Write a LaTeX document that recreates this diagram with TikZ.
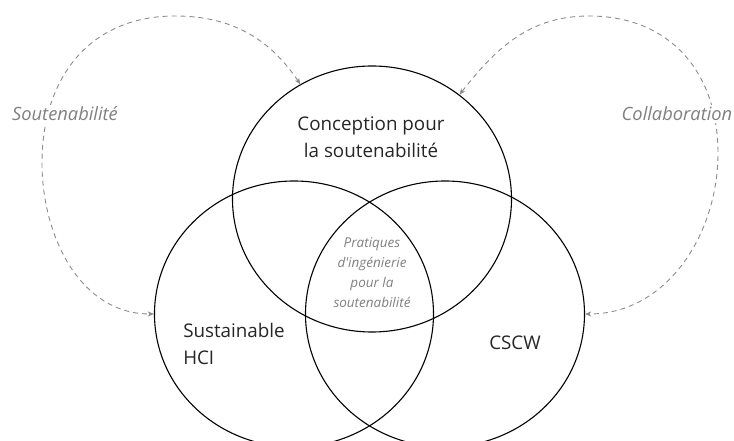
\documentclass[tikz,border=0pt]{standalone}
\usepackage{fontspec}
\setmainfont{Open Sans}
\usepackage{tikz}
\usetikzlibrary{arrows.meta}
\usetikzlibrary{shapes.geometric}
\definecolor{linkgray}{HTML}{8C8C8C}
\definecolor{labelgray}{HTML}{808080}

\begin{document}
\begin{tikzpicture}[x=1pt,y=1pt,
    field/.style={draw, ellipse, line width=1.1pt, minimum width=279pt, minimum height=266pt, inner sep=0pt},
    link/.style={draw=linkgray, line width=0.9pt, dash pattern=on 5pt off 4pt, {Stealth[length=6pt,width=5pt,inset=1.5pt]}-{Stealth[length=6pt,width=5pt,inset=1.5pt]}},
    theme/.style={fill=white, text=labelgray, font=\fontsize{18.3}{22}\selectfont\itshape, inner sep=2pt},
    areatext/.style={text=black!85, font=\fontsize{18.8}{27}\selectfont}]

            \useasboundingbox (0,0) rectangle (734,441);

            % Define the three fields
            \node[field] (design) at (372,242) {};
            \node[field] (shci) at (294,127) {};
            \node[field] (cscw) at (445,127) {};
            \node[areatext, align=center] (designtxt) at (371,303.5) {Conception pour\\la soutenabilité};
            \node[areatext, align=left] (shcitxt) at (234,97) {Sustainable\\HCI};
            \node[areatext] (cscwtxt) at (515,98) {CSCW};
            \node[text=labelgray, align=center, font=\fontsize{13.5}{20}\selectfont\itshape] (practice) at (372,168) {Pratiques\\d\textquotesingle ingénierie\\pour la\\soutenabilité};

            % Dashed links
            \coordinate (ltop) at (175,425);
            \coordinate (lside) at (42,278);
            \coordinate (rtop) at (589,425);
            \coordinate (rside) at (718,288);
            \draw[link] (design.122) to[out=124,in=0] (ltop) to[out=180,in=90,looseness=1.1] (lside) to[out=270,in=180] (shci.west);
            \draw[link] (design.50) to[out=52,in=180] (rtop) to[out=0,in=90,looseness=1.1] (rside) to[out=270,in=0] (cscw.east);
            \node[theme] (sust) at (65,327) {Soutenabilité};
            \node[theme] (collab) at (677,327) {Collaboration};
        \end{tikzpicture}
\end{document}
